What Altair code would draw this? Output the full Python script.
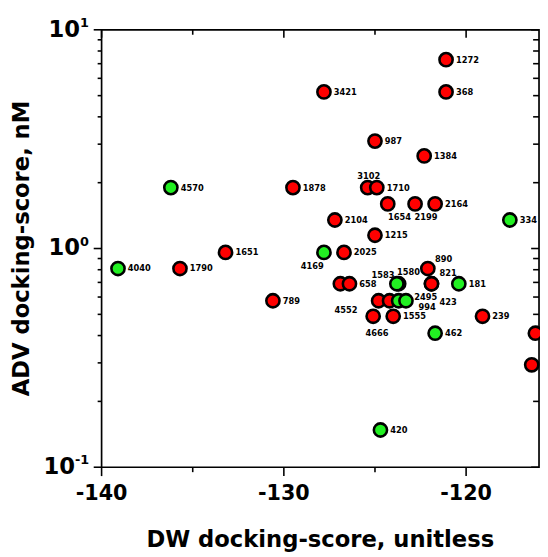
import altair as alt
import pandas as pd

# ---- data -------------------------------------------------------------------
dw_score = [-121.1, -121.1, -127.8, -125.0, -122.3, -129.5, -125.4, -124.9,
            -124.3, -122.8, -121.7, -127.2, -117.6, -125.0, -136.2, -127.8,
            -126.7, -133.2, -139.1, -135.7, -122.1, -130.6, -126.9, -126.4,
            -123.7, -123.8, -121.9, -121.9, -120.4, -124.8, -124.2, -123.7,
            -123.3, -125.1, -124.0, -119.1, -121.7, -116.2, -116.4, -124.7]
adv_score = [7.3, 5.2, 5.2, 3.1, 2.65, 1.9, 1.9, 1.9,
             1.6, 1.6, 1.6, 1.35, 1.35, 1.15, 1.9, 0.96,
             0.96, 0.96, 0.81, 0.81, 0.81, 0.577, 0.69, 0.69,
             0.69, 0.69, 0.69, 0.69, 0.69, 0.577, 0.577, 0.577,
             0.577, 0.49, 0.49, 0.49, 0.41, 0.41, 0.294, 0.148]
compound = ["1272", "368", "3421", "987", "1384", "1878", "3102", "1710",
            "1654", "2199", "2164", "2104", "334", "1215", "4570", "4169",
            "2025", "1651", "4040", "1790", "890", "789", "", "658",
            "1580", "1583", "821", "423", "181", "4552", "", "994",
            "2495", "4666", "1555", "239", "462", "", "", "420"]
group = ["red", "red", "red", "red", "red", "red", "red", "red",
         "red", "red", "red", "red", "green", "red", "green", "green",
         "red", "red", "green", "red", "red", "red", "red", "red",
         "green", "green", "red", "red", "green", "red", "red", "green",
         "green", "red", "red", "red", "green", "red", "red", "green"]

x_major = [-140, -130, -120]
x_major_text = ["-140", "-130", "-120"]
x_minor = [-135, -125]
y_major = [0.1, 1, 10]
y_exp = ["-1", "0", "1"]
y_minor = [0.2, 0.3, 0.4, 0.5, 0.6, 0.7, 0.8, 0.9, 2, 3, 4, 5, 6, 7, 8, 9]

# label placement (pixel offsets of label centre from point) for non-right labels
label_offsets = {
    "3102": (1, -12), "1654": (12, 13), "2199": (11, 13), "4169": (-12, 14),
    "890": (16, -10), "1583": (-14, -9), "1580": (10, -12), "821": (17, -11),
    "423": (17, 19), "4552": (-33, 9), "994": (29, 6), "2495": (20, -4),
    "4666": (4, 17),
}

# ---- tables ------------------------------------------------------------------
pts = pd.DataFrame({"dw": dw_score, "adv": adv_score, "id": compound, "grp": group})
pts["dx"] = [label_offsets.get(c, (0, 0))[0] for c in compound]
pts["dy"] = [label_offsets.get(c, (0, 0))[1] for c in compound]
pts["place"] = ["custom" if c in label_offsets else ("right" if c else "none")
                for c in compound]

W = 444
H = 444
FONT = "DejaVu Sans"
xs = alt.Scale(domain=[-140, -116], nice=False, zero=False)
ys = alt.Scale(type="log", domain=[0.1, 10], nice=False)

xmaj = pd.DataFrame({"v": x_major, "t": x_major_text})
xmin = pd.DataFrame({"v": x_minor})
ymaj = pd.DataFrame({"v": y_major, "e": y_exp})
ymin = pd.DataFrame({"v": y_minor})


def xrule(df, y1, y2):
    return alt.Chart(df).mark_rule(color="black", strokeWidth=1.6).encode(
        x=alt.X("v:Q", scale=xs, axis=None), y=alt.value(y1), y2=alt.value(y2))


def yrule(df, x1, x2):
    return alt.Chart(df).mark_rule(color="black", strokeWidth=1.6).encode(
        y=alt.Y("v:Q", scale=ys, axis=None), x=alt.value(x1), x2=alt.value(x2))


ticks = [
    xrule(xmaj, H, H + 9), xrule(xmin, H, H + 5),
    xrule(xmaj, 0, 8), xrule(xmin, 0, 5),
    yrule(ymaj, -8, 0), yrule(ymin, -4, 0),
    yrule(ymaj, W, W - 8), yrule(ymin, W, W - 6),
]

points = alt.Chart(pts).mark_point(
    shape="circle", filled=True, size=180, stroke="black", strokeWidth=2.6, opacity=1
).encode(
    x=alt.X("dw:Q", scale=xs, axis=None),
    y=alt.Y("adv:Q", scale=ys, axis=None),
    fill=alt.Fill("grp:N", scale=alt.Scale(domain=["red", "green"],
                                          range=["#ff0000", "#22f022"]), legend=None),
)

lab_right = alt.Chart(pts).transform_filter("datum.place == 'right'").mark_text(
    align="left", baseline="middle", dx=10, font=FONT, fontWeight="bold",
    fontSize=8.4, color="black"
).encode(x=alt.X("dw:Q", scale=xs, axis=None),
         y=alt.Y("adv:Q", scale=ys, axis=None), text="id:N")

lab_custom = alt.Chart(pts).transform_filter("datum.place == 'custom'").transform_calculate(
    lx=f"datum.dw + datum.dx * 24 / {W}",
    ly=f"datum.adv * pow(10, -datum.dy / {H / 2})",
).mark_text(
    align="center", baseline="middle", font=FONT, fontWeight="bold",
    fontSize=8.4, color="black"
).encode(x=alt.X("lx:Q", scale=xs, axis=None),
         y=alt.Y("ly:Q", scale=ys, axis=None), text="id:N")

xlabels = alt.Chart(xmaj).mark_text(
    align="center", baseline="middle", font=FONT, fontWeight="bold", fontSize=21,
    color="black"
).encode(x=alt.X("v:Q", scale=xs, axis=None), y=alt.value(H + 27), text="t:N")

ten_a = alt.Chart(ymaj).transform_filter("datum.e != '-1'").mark_text(
    align="right", baseline="middle", font=FONT, fontWeight="bold", fontSize=23,
    color="black"
).encode(y=alt.Y("v:Q", scale=ys, axis=None), x=alt.value(-22), text=alt.value("10"))
ten_b = alt.Chart(ymaj).transform_filter("datum.e == '-1'").mark_text(
    align="right", baseline="middle", font=FONT, fontWeight="bold", fontSize=23,
    color="black"
).encode(y=alt.Y("v:Q", scale=ys, axis=None), x=alt.value(-27), text=alt.value("10"))
expo_a = alt.Chart(ymaj).transform_filter("datum.e != '-1'").mark_text(
    align="left", baseline="middle", font=FONT, fontWeight="bold", fontSize=13,
    color="black", dy=-7
).encode(y=alt.Y("v:Q", scale=ys, axis=None), x=alt.value(-22), text="e:N")
expo_b = alt.Chart(ymaj).transform_filter("datum.e == '-1'").mark_text(
    align="left", baseline="middle", font=FONT, fontWeight="bold", fontSize=13,
    color="black", dy=-7
).encode(y=alt.Y("v:Q", scale=ys, axis=None), x=alt.value(-27), text="e:N")

xtitle = alt.Chart(pd.DataFrame({"t": ["DW docking-score, unitless"]})).mark_text(
    align="center", baseline="middle", font=FONT, fontWeight="bold", fontSize=23,
    color="black"
).encode(x=alt.value(W / 2), y=alt.value(H + 74), text="t:N")

ytitle = alt.Chart(pd.DataFrame({"t": ["ADV docking-score, nM"]})).mark_text(
    align="center", baseline="middle", font=FONT, fontWeight="bold", fontSize=23,
    color="black", angle=270
).encode(x=alt.value(-81), y=alt.value(H / 2), text="t:N")

chart = alt.layer(
    *ticks, points, lab_right, lab_custom, xlabels,
    ten_a, ten_b, expo_a, expo_b, xtitle, ytitle
).properties(
    width=W, height=H,
    autosize=alt.AutoSizeParams(type="none"),
    padding={"left": 95, "top": 18, "right": 1, "bottom": 88},
).configure_view(stroke="black", strokeWidth=1.7)

chart.save("out.html", embed_options={"renderer": "svg", "actions": False})
